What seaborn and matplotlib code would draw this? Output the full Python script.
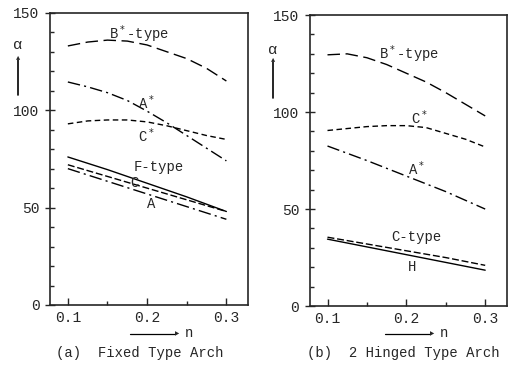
import numpy as np
import pandas as pd
import seaborn as sns
import matplotlib.pyplot as plt
from matplotlib.ticker import MultipleLocator

# dades llegides de la figura
n = [0.1, 0.15, 0.2, 0.25, 0.3]
n_fi = [0.1, 0.125, 0.15, 0.175, 0.2, 0.225, 0.25, 0.275, 0.3]

# (a) arc encastat
fix_Bstar = [133, 135, 136, 135.5, 133.5, 130, 126.5, 121.5, 115]
fix_Astar = [114.5, 112, 109, 105, 99.5, 93.5, 87, 80.5, 74]
fix_Cstar = [93, 94.5, 95, 95, 94, 92, 89.5, 87, 85]
fix_F = [76, 69.5, 62.5, 55.5, 48]
fix_C = [72, 66, 60, 54, 48]
fix_A = [70, 63.5, 57, 50.5, 44]

# (b) arc biarticulat
hin_Bstar = [129.5, 130, 128, 124.5, 120, 115.5, 110, 104, 98]
hin_Cstar = [90.5, 91.5, 92.5, 93, 93, 92, 89, 86, 82]
hin_Astar = [82.5, 75, 67, 59, 50]
hin_C = [35.5, 32, 28.5, 25, 21]
hin_H = [34.5, 30.5, 26.5, 22.5, 18.5]

sns.set_style("ticks")
plt.rcParams['font.family'] = ['Liberation Mono', 'DejaVu Sans']

long_dash = (9, 4)
dash_dot = (9, 3, 1.5, 3)
short_dash = (4, 2.5)
med_dash = (5, 2)

fig = plt.figure(figsize=(5.12, 3.67), dpi=100)
ax1 = fig.add_axes([0.0977, 0.169, 0.387, 0.796])
ax2 = fig.add_axes([0.605, 0.166, 0.385, 0.793])


def linia(ax, x, y, estil):
    df = pd.DataFrame({"n": x, "alpha": y})
    l = sns.lineplot(data=df, x="n", y="alpha", ax=ax, color="black", lw=1.0)
    line = l.get_lines()[-1]
    if estil is not None:
        line.set_dashes(estil)


linia(ax1, n_fi, fix_Bstar, long_dash)
linia(ax1, n_fi, fix_Astar, dash_dot)
linia(ax1, n_fi, fix_Cstar, short_dash)
linia(ax1, n, fix_F, None)
linia(ax1, n, fix_C, med_dash)
linia(ax1, n, fix_A, dash_dot)

linia(ax2, n_fi, hin_Bstar, long_dash)
linia(ax2, n_fi, hin_Cstar, short_dash)
linia(ax2, n, hin_Astar, dash_dot)
linia(ax2, n, hin_C, med_dash)
linia(ax2, n, hin_H, None)

fs = 10
ax1.text(0.19, 139, "B$^*$-type", fontsize=fs, ha="center", va="center")
ax1.text(0.199, 104, "A$^*$", fontsize=fs, ha="center", va="center")
ax1.text(0.199, 87, "C$^*$", fontsize=fs, ha="center", va="center")
ax1.text(0.215, 71, "F-type", fontsize=fs, ha="center", va="center")
ax1.text(0.184, 62.5, "C", fontsize=fs, ha="center", va="center")
ax1.text(0.205, 52, "A", fontsize=fs, ha="center", va="center")

ax2.text(0.204, 130, "B$^*$-type", fontsize=fs, ha="center", va="center")
ax2.text(0.216, 97, "C$^*$", fontsize=fs, ha="center", va="center")
ax2.text(0.2125, 71, "A$^*$", fontsize=fs, ha="center", va="center")
ax2.text(0.2125, 35.5, "C-type", fontsize=fs, ha="center", va="center")
ax2.text(0.207, 20, "H", fontsize=fs, ha="center", va="center")

for ax in (ax1, ax2):
    ax.set_xlim(0.0775, 0.3275)
    ax.set_ylim(0, 150)
    ax.set_xlabel("")
    ax.set_ylabel("")
    ax.xaxis.set_major_locator(MultipleLocator(0.1))
    ax.xaxis.set_minor_locator(MultipleLocator(0.05))
    ax.yaxis.set_major_locator(MultipleLocator(50))
    ax.yaxis.set_minor_locator(MultipleLocator(10))
    ax.tick_params(which="major", direction="in", length=5, width=1, labelsize=10.5, pad=4)
    ax.tick_params(which="minor", direction="in", length=3, width=1)
    ax.tick_params(axis="y", which="major", direction="inout", length=7)
    for s in ax.spines.values():
        s.set_visible(True)
        s.set_linewidth(1.2)
    ax.set_xticks([0.1, 0.2, 0.3])
    ax.set_xticklabels(["0.1", "0.2", "0.3"])

# alfa i fletxes
fig.text(18 / 512, 1 - 45 / 367, "α", fontsize=11, ha="center", va="center")
fig.add_artist(plt.Line2D([18 / 512, 18 / 512], [1 - 95 / 367, 1 - 60 / 367], color="black", lw=1.2))
fig.text(273 / 512, 1 - 50 / 367, "α", fontsize=11, ha="center", va="center")
fig.add_artist(plt.Line2D([273 / 512, 273 / 512], [1 - 98 / 367, 1 - 62 / 367], color="black", lw=1.2))
for xa, ya in [(18, 55), (273, 57)]:
    fig.text(xa / 512, 1 - (ya + 3) / 367, "▲", fontsize=5, ha="center", va="center")

# eix n
for x0 in (130, 385):
    fig.add_artist(plt.Line2D([x0 / 512, (x0 + 45) / 512], [1 - 334 / 367, 1 - 334 / 367], color="black", lw=0.9))
    fig.text((x0 + 47) / 512, 1 - 334 / 367, "▶", fontsize=4, ha="center", va="center")
    fig.text((x0 + 55) / 512, 1 - 333 / 367, "n", fontsize=10, ha="left", va="center")

fig.text(140 / 512, 1 - 353 / 367, "(a)  Fixed Type Arch", fontsize=10, ha="center", va="center")
fig.text(403 / 512, 1 - 353 / 367, "(b)  2 Hinged Type Arch", fontsize=10, ha="center", va="center")

plt.savefig("out.png", dpi=100)
